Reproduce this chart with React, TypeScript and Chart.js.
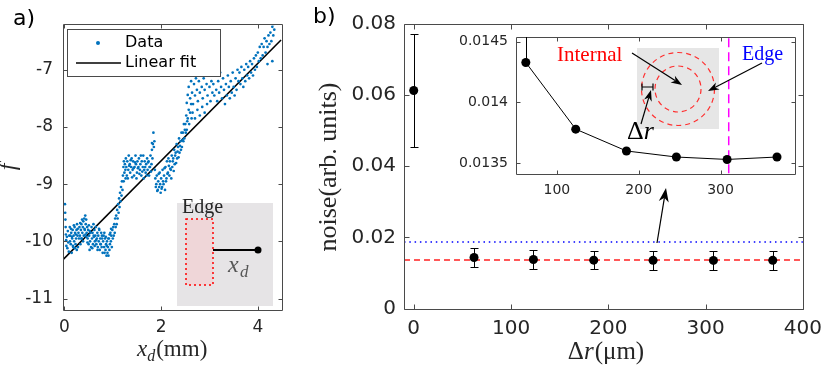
import React, { useEffect, useRef } from "react";
import { Chart, registerables } from "chart.js";
Chart.register(...registerables);

const SANS = "'DejaVu Sans', sans-serif";
const SERIF = "'Liberation Serif', serif";
const FRAME = "#4a4a4a";
const INK = "#262626";

// ---------- panel a: measured f vs x_d (mm) ----------
const samples: [number, number][] = [
  [0.01,-9.35],[0.015,-9.5],[0.02,-9.62],[0.025,-9.75],[0.03,-9.88],[0.035,-9.98],[0.04,-10.08],[0.05,-9.92],[0.06,-10.12],[0.07,-9.82],[0.08,-10.02],[0.09,-10.18],[0.1,-9.9],
  [0.11,-9.75],[0.115,-10.0],[0.12,-9.9],[0.13,-10.05],[0.135,-9.78],[0.14,-9.85],[0.15,-10.2],[0.155,-9.92],[0.16,-9.95],[0.17,-9.8],[0.175,-10.08],[0.18,-10.1],[0.19,-9.9],[0.195,-9.72],[0.2,-10.0],[0.21,-9.75],[0.215,-10.12],[0.22,-9.85],[0.23,-10.05],[0.235,-9.88],[0.24,-9.95],[0.25,-9.8],[0.255,-10.15],[0.26,-9.7],[0.27,-9.9],[0.275,-9.78],[0.28,-10.1],[0.29,-9.85],[0.3,-9.95],
  [0.31,-9.75],[0.32,-9.9],[0.325,-9.68],[0.33,-10.05],[0.34,-9.8],[0.345,-9.95],[0.35,-9.7],[0.36,-9.95],[0.365,-9.62],[0.37,-9.85],[0.38,-9.75],[0.385,-10.0],[0.39,-9.65],[0.4,-9.9],[0.41,-9.6],[0.415,-9.78],[0.42,-9.8],[0.43,-9.55],[0.435,-9.88],[0.44,-9.7],[0.45,-9.62],[0.455,-9.92],[0.46,-9.85],[0.47,-9.75],[0.475,-10.02],[0.48,-9.95],[0.49,-9.8],[0.5,-10.05],[0.505,-9.72],[0.51,-9.9],[0.52,-10.15],[0.525,-9.82],[0.53,-10.0],[0.54,-9.85],[0.55,-10.1],
  [0.56,-9.75],[0.57,-9.95],[0.575,-10.12],[0.58,-9.85],[0.59,-10.05],[0.6,-9.7],[0.605,-9.9],[0.61,-9.92],[0.62,-9.8],[0.625,-10.08],[0.63,-10.0],[0.64,-9.9],[0.65,-9.75],[0.655,-9.98],[0.66,-10.05],[0.67,-9.95],[0.68,-9.85],[0.685,-10.15],[0.69,-10.1],[0.7,-9.9],[0.71,-10.0],[0.715,-9.78],[0.72,-9.8],[0.73,-10.15],[0.74,-9.95],[0.745,-10.05],[0.75,-10.05],[0.76,-9.85],[0.77,-10.1],[0.775,-9.9],[0.78,-9.95],[0.79,-10.2],[0.8,-10.0],
  [0.81,-9.9],[0.82,-10.1],[0.825,-9.85],[0.83,-10.2],[0.84,-9.95],[0.85,-10.15],[0.855,-9.92],[0.86,-10.05],[0.87,-10.25],[0.875,-10.08],[0.88,-10.0],[0.89,-10.2],[0.9,-10.1],[0.905,-9.95],[0.91,-10.25],[0.92,-9.95],[0.93,-10.15],[0.935,-9.88],[0.94,-10.05],[0.95,-9.85],[0.96,-10.0],[0.965,-9.78],[0.97,-9.9],[0.98,-10.1],[0.99,-9.8],[1.0,-9.95],
  [1.01,-9.75],[1.02,-9.9],[1.03,-9.7],[1.04,-9.85],[1.05,-9.6],[1.06,-9.75],[1.07,-9.55],[1.08,-9.7],[1.09,-9.45],[1.1,-9.6],[1.11,-9.35],[1.12,-9.5],[1.13,-9.25],[1.14,-9.4],[1.15,-9.15],[1.16,-9.3],[1.17,-9.05],[1.18,-9.2],[1.19,-8.95],[1.2,-9.1],
  [1.21,-8.85],[1.22,-8.7],[1.225,-8.95],[1.23,-8.6],[1.24,-8.8],[1.25,-8.65],[1.26,-8.75],[1.265,-8.9],[1.27,-8.55],[1.28,-8.7],[1.29,-8.85],[1.3,-8.6],[1.31,-8.9],[1.32,-8.75],[1.33,-8.5],[1.34,-8.68],[1.35,-8.65],[1.36,-8.8],[1.37,-8.58],[1.38,-8.7],[1.39,-8.55],[1.4,-8.88],[1.41,-8.75],[1.42,-8.6],[1.43,-8.72],[1.44,-8.85],[1.45,-8.7],[1.46,-8.62],[1.47,-8.5],[1.48,-8.65],[1.49,-8.9],[1.5,-8.8],[1.51,-8.6],[1.52,-8.72],[1.53,-8.7],[1.54,-8.55],[1.55,-8.82],[1.56,-8.75],[1.57,-8.65],[1.58,-8.5],[1.59,-8.85],[1.6,-8.6],[1.61,-8.78],[1.62,-8.7],[1.63,-8.5],[1.64,-8.9],[1.65,-8.75],[1.66,-8.6],[1.67,-8.7],[1.68,-8.8],[1.69,-8.65],[1.7,-8.85],[1.71,-8.55],[1.72,-8.75],[1.73,-8.62],[1.74,-8.6],[1.75,-8.85],[1.76,-8.7],[1.77,-8.7],[1.78,-8.5],[1.79,-8.78],[1.8,-8.65],[1.81,-8.4],[1.81,-8.28],[1.82,-8.55],[1.83,-8.3],[1.84,-8.1],[1.85,-8.35],[1.86,-8.25],
  [1.87,-8.75],[1.88,-8.9],[1.89,-9.05],[1.9,-9.0],[1.91,-8.85],[1.92,-9.12],[1.93,-9.1],[1.94,-8.95],[1.95,-8.82],[1.96,-9.05],[1.97,-8.8],[1.98,-9.0],[1.99,-9.15],[2.0,-8.9],[2.01,-9.08],[2.02,-9.05],[2.03,-8.75],[2.04,-8.95],[2.05,-9.0],[2.06,-8.85],[2.07,-8.72],[2.08,-9.1],[2.09,-8.7],[2.1,-8.95],[2.11,-8.9],[2.12,-8.6],[2.13,-8.82],[2.14,-8.8],[2.15,-8.55],[2.16,-8.68],
  [2.17,-8.85],[2.18,-8.6],[2.19,-8.73],[2.2,-8.75],[2.21,-8.9],[2.22,-8.5],[2.23,-8.7],[2.24,-8.6],[2.25,-8.55],[2.26,-8.77],[2.27,-8.4],[2.28,-8.65],[2.29,-8.5],[2.3,-8.45],[2.31,-8.63],[2.32,-8.3],[2.33,-8.55],[2.34,-8.43],[2.35,-8.35],[2.36,-8.53],[2.37,-8.2],[2.38,-8.45],[2.39,-8.33],[2.4,-8.25],[2.41,-8.4],[2.42,-8.1],[2.43,-8.35],[2.44,-8.23],[2.45,-8.1],[2.46,-8.25],[2.47,-7.95],[2.48,-8.2],[2.49,-8.05],[2.5,-7.95],[2.51,-8.1],[2.52,-7.8],[2.53,-8.05],[2.54,-7.9],[2.55,-7.85],[2.57,-7.7],[2.58,-7.95],[2.6,-7.75],[2.62,-7.6],[2.63,-7.85],[2.53,-7.58],[2.55,-7.44],
  [2.57,-7.3],[2.6,-7.5],[2.62,-7.2],[2.64,-7.4],[2.66,-7.6],[2.68,-7.25],[2.7,-7.45],[2.72,-7.15],[2.74,-7.35],[2.76,-7.55],[2.78,-7.2],[2.8,-7.4],[2.82,-7.05],[2.84,-7.3],[2.86,-7.5],[2.88,-7.15],[2.9,-7.35],[2.92,-7.0],[2.94,-7.25],[2.96,-7.45],[2.98,-7.1],[3.0,-7.3],[3.02,-7.55],[3.04,-7.2],[3.06,-7.4],
  [2.65,-7.75],[2.7,-7.85],[2.75,-7.7],[2.8,-7.8],[2.85,-7.65],[2.9,-7.75],[2.95,-7.6],
  [3.08,-7.25],[3.1,-7.45],[3.12,-7.1],[3.14,-7.35],[3.16,-7.55],[3.18,-7.2],[3.2,-7.4],[3.22,-7.05],[3.24,-7.3],[3.26,-7.5],[3.28,-7.15],[3.3,-7.35],[3.32,-7.6],[3.34,-7.25],[3.36,-7.45],[3.38,-7.1],[3.4,-7.3],[3.42,-7.5],[3.44,-7.2],[3.46,-7.4],[3.48,-7.05],[3.5,-7.3],[3.52,-7.45],[3.54,-7.15],[3.56,-7.35],[3.58,-7.0],
  [3.6,-7.2],[3.62,-7.05],[3.64,-7.25],[3.66,-6.95],[3.68,-7.15],[3.7,-7.3],[3.72,-7.0],[3.74,-7.2],[3.76,-6.9],[3.78,-7.1],[3.8,-6.95],[3.82,-7.15],[3.84,-6.85],[3.86,-7.05],[3.88,-6.9],[3.9,-7.1],[3.92,-6.8],[3.94,-7.0],[3.96,-6.75],[3.98,-6.95],
  [4.0,-6.7],[4.02,-6.85],[4.04,-6.6],[4.06,-6.8],[4.08,-6.55],[4.1,-6.75],[4.12,-6.6],[4.14,-6.45],[4.16,-6.7],[4.18,-6.5],[4.2,-6.6],[4.22,-6.4],[4.24,-6.55],[4.26,-6.35],[4.28,-6.5],[4.3,-6.25],[4.32,-6.4],[4.33,-6.2],[4.34,-6.3],[4.3,-6.85],[4.2,-6.9],[4.25,-6.15]
];
const fitX = [-0.03, 4.48];
const fitY = [-10.32, -6.48];
const aXTicks = [0, 2, 4];
const aYTicks = [-11, -10, -9, -8, -7];

// ---------- panel b: noise vs Δr (μm) ----------
const edgeX = [0];
const edgeY = [0.0613];
const edgeErr = [0.0159];
const internalX = [62, 123, 185, 246, 308, 369];
const internalY = [0.01433, 0.01378, 0.0136, 0.01355, 0.01353, 0.01355];
const internalErr = [0.0027, 0.0026, 0.0026, 0.0026, 0.0026, 0.0026];
const levelX = [-10, 400];
const internalLevelY = [0.01364, 0.01364];
const edgeLevelY = [0.0187, 0.0187];
const boundaryX = [310, 310];
const boundaryY = [0.0133, 0.0146];
const bXTicks = [0, 100, 200, 300, 400];
const bYTicks = [0, 0.02, 0.04, 0.06, 0.08];
const insetXTicks = [100, 200, 300];
const insetYTicks = [0.0135, 0.014, 0.0145];

const pts = (xs: number[], ys: number[]) => xs.map((x, i) => ({ x, y: ys[i] }));

function axis(min: number, max: number, ticks: number[], size: number, pad: number, extent: number, horizontal: boolean) {
  return {
    type: "linear",
    min,
    max,
    grid: { display: false, drawTicks: false },
    border: { display: false },
    ticks: {
      color: INK,
      font: { family: SANS, size },
      padding: pad,
      autoSkip: false,
      maxRotation: 0,
      minRotation: 0,
      callback: (v: any) => String(v),
    },
    afterBuildTicks: (s: any) => {
      s.ticks = ticks.map((v) => ({ value: v }));
    },
    afterFit: (s: any) => {
      if (horizontal) s.height = extent;
      else s.width = extent;
    },
  };
}

function framePlugin(len: number) {
  return {
    id: "frame" + len,
    afterDatasetsDraw(chart: any) {
      const { ctx, chartArea: a, scales } = chart;
      const L = Math.round(a.left) + 0.5, R = Math.round(a.right) + 0.5;
      const T = Math.round(a.top) + 0.5, B = Math.round(a.bottom) + 0.5;
      ctx.save();
      ctx.strokeStyle = FRAME;
      ctx.lineWidth = 1;
      ctx.beginPath();
      ctx.rect(L, T, R - L, B - T);
      for (const t of scales.x.ticks) {
        const p = Math.round(scales.x.getPixelForValue(t.value)) + 0.5;
        ctx.moveTo(p, B); ctx.lineTo(p, B - len);
        ctx.moveTo(p, T); ctx.lineTo(p, T + len);
      }
      for (const t of scales.y.ticks) {
        const p = Math.round(scales.y.getPixelForValue(t.value)) + 0.5;
        ctx.moveTo(L, p); ctx.lineTo(L + len, p);
        ctx.moveTo(R, p); ctx.lineTo(R - len, p);
      }
      ctx.stroke();
      ctx.restore();
    },
  };
}

function arrow(ctx: CanvasRenderingContext2D, x1: number, y1: number, x2: number, y2: number, head = 10, half = 3.5) {
  const a = Math.atan2(y2 - y1, x2 - x1);
  const c = Math.cos(a), s = Math.sin(a);
  ctx.beginPath();
  ctx.moveTo(x1, y1);
  ctx.lineTo(x2 - head * 0.7 * c, y2 - head * 0.7 * s);
  ctx.stroke();
  ctx.beginPath();
  ctx.moveTo(x2, y2);
  ctx.lineTo(x2 - head * c + half * s, y2 - head * s - half * c);
  ctx.lineTo(x2 - head * 0.7 * c, y2 - head * 0.7 * s);
  ctx.lineTo(x2 - head * c - half * s, y2 - head * s + half * c);
  ctx.closePath();
  ctx.fill();
}

function vText(ctx: CanvasRenderingContext2D, text: string, x: number, y: number, font: string) {
  ctx.save();
  ctx.translate(x, y);
  ctx.rotate(-Math.PI / 2);
  ctx.font = font;
  ctx.textAlign = "center";
  ctx.textBaseline = "middle";
  ctx.fillText(text, 0, 0);
  ctx.restore();
}

function errorBars(chart: any, xs: number[], ys: number[], es: number[]) {
  const { ctx, scales } = chart;
  ctx.save();
  ctx.strokeStyle = "#000";
  ctx.lineWidth = 1;
  ctx.beginPath();
  xs.forEach((x, i) => {
    const px = Math.round(scales.x.getPixelForValue(x)) + 0.5;
    const t = Math.round(scales.y.getPixelForValue(ys[i] + es[i])) + 0.5;
    const b = Math.round(scales.y.getPixelForValue(ys[i] - es[i])) + 0.5;
    ctx.moveTo(px, t); ctx.lineTo(px, b);
    ctx.moveTo(px - 4, t); ctx.lineTo(px + 4, t);
    ctx.moveTo(px - 4, b); ctx.lineTo(px + 4, b);
  });
  ctx.stroke();
  ctx.restore();
}

const panelADecor = {
  id: "panelADecor",
  afterDraw(chart: any) {
    const ctx: CanvasRenderingContext2D = chart.ctx;
    ctx.save();
    // panel label
    ctx.fillStyle = "#000";
    ctx.font = `22px ${SANS}`;
    ctx.textAlign = "left";
    ctx.textBaseline = "alphabetic";
    ctx.fillText("a)", 13, 25);
    // axis titles
    ctx.fillStyle = INK;
    vText(ctx, "f", 9, 167, `italic 24px ${SERIF}`);
    ctx.textAlign = "left";
    ctx.textBaseline = "alphabetic";
    let x = 137;
    ctx.font = `italic 23px ${SERIF}`;
    ctx.fillText("x", x, 356);
    x += ctx.measureText("x").width;
    ctx.font = `italic 16px ${SERIF}`;
    ctx.fillText("d", x, 361);
    x += ctx.measureText("d").width + 1;
    ctx.font = `23px ${SERIF}`;
    ctx.fillText("(mm)", x, 356);
    // legend
    ctx.fillStyle = "#fff";
    ctx.fillRect(67, 29, 153, 47);
    ctx.strokeStyle = FRAME;
    ctx.lineWidth = 1;
    ctx.strokeRect(67.5, 29.5, 153, 47);
    ctx.fillStyle = "#0072BD";
    ctx.beginPath();
    ctx.arc(98, 43, 2, 0, Math.PI * 2);
    ctx.fill();
    ctx.strokeStyle = "#000";
    ctx.lineWidth = 1.6;
    ctx.beginPath();
    ctx.moveTo(76, 63); ctx.lineTo(121, 63);
    ctx.stroke();
    ctx.fillStyle = "#000";
    ctx.font = `16px ${SANS}`;
    ctx.textBaseline = "middle";
    ctx.fillText("Data", 125, 43);
    ctx.fillText("Linear fit", 125, 63);
    // edge schematic
    ctx.fillStyle = "#e6e4e6";
    ctx.fillRect(177, 203, 96, 103);
    ctx.fillStyle = "rgba(255,190,190,0.35)";
    ctx.fillRect(186, 219, 27, 66);
    ctx.strokeStyle = "#ff0000";
    ctx.lineWidth = 1.5;
    ctx.setLineDash([2, 3]);
    ctx.strokeRect(186, 219, 27, 66);
    ctx.setLineDash([]);
    ctx.strokeStyle = "#000";
    ctx.lineWidth = 2;
    ctx.beginPath();
    ctx.moveTo(213, 250); ctx.lineTo(258, 250);
    ctx.stroke();
    ctx.fillStyle = "#000";
    ctx.beginPath();
    ctx.arc(258, 250, 3.5, 0, Math.PI * 2);
    ctx.fill();
    ctx.fillStyle = INK;
    ctx.textBaseline = "alphabetic";
    ctx.font = `20px ${SERIF}`;
    ctx.fillText("Edge", 182, 213);
    ctx.fillStyle = "#555";
    ctx.font = `italic 24px ${SERIF}`;
    ctx.fillText("x", 228, 272);
    ctx.font = `italic 17px ${SERIF}`;
    ctx.fillText("d", 240, 277);
    ctx.restore();
  },
};

const panelBDecor = {
  id: "panelBDecor",
  afterDatasetsDraw(chart: any) {
    errorBars(chart, edgeX, edgeY, edgeErr);
    errorBars(chart, internalX, internalY, internalErr);
  },
  afterDraw(chart: any) {
    const ctx: CanvasRenderingContext2D = chart.ctx;
    ctx.save();
    ctx.fillStyle = "#000";
    ctx.font = `22px ${SANS}`;
    ctx.textAlign = "left";
    ctx.textBaseline = "alphabetic";
    ctx.fillText("b)", 23, 23);
    ctx.fillStyle = INK;
    vText(ctx, "noise(arb. units)", 39, 167, `26px ${SERIF}`);
    // x title Δr(μm)
    ctx.textAlign = "left";
    ctx.textBaseline = "alphabetic";
    const f1 = `25px ${SERIF}`, f2 = `italic 25px ${SERIF}`;
    ctx.font = f1; const w1 = ctx.measureText("Δ").width; const w3 = ctx.measureText("(μm)").width;
    ctx.font = f2; const w2 = ctx.measureText("r").width + 1;
    let x = 316 - (w1 + w2 + w3) / 2;
    ctx.font = f1; ctx.fillText("Δ", x, 359); x += w1;
    ctx.font = f2; ctx.fillText("r", x, 359); x += w2;
    ctx.font = f1; ctx.fillText("(μm)", x, 359);
    // arrow from edge level to inset
    ctx.strokeStyle = "#000";
    ctx.fillStyle = "#000";
    ctx.lineWidth = 1.2;
    arrow(ctx, 367, 243, 376, 188, 14, 5);
    ctx.restore();
  },
};

const insetDecor = {
  id: "insetDecor",
  beforeDraw(chart: any) {
    const { ctx, chartArea: a } = chart;
    ctx.save();
    ctx.fillStyle = "#fff";
    ctx.fillRect(a.left, a.top, a.right - a.left, a.bottom - a.top);
    ctx.restore();
  },
  afterDatasetsDraw(chart: any) {
    const { ctx, chartArea: a, scales } = chart;
    const px = Math.round(scales.x.getPixelForValue(internalX[0])) + 0.5;
    const py = scales.y.getPixelForValue(internalY[0]);
    const top = Math.max(a.top, scales.y.getPixelForValue(internalY[0] + internalErr[0]));
    ctx.save();
    ctx.strokeStyle = "#000";
    ctx.lineWidth = 1;
    ctx.beginPath();
    ctx.moveTo(px, py); ctx.lineTo(px, top);
    ctx.stroke();
    ctx.restore();
  },
  afterDraw(chart: any) {
    const ctx: CanvasRenderingContext2D = chart.ctx;
    ctx.save();
    ctx.fillStyle = "#e6e6e6";
    ctx.fillRect(197, 28, 82, 81);
    ctx.strokeStyle = "#ff3030";
    ctx.lineWidth = 1.2;
    ctx.setLineDash([5, 4]);
    ctx.beginPath();
    ctx.arc(238, 69, 36.5, 0, Math.PI * 2);
    ctx.stroke();
    ctx.beginPath();
    ctx.arc(238, 69, 23, 0, Math.PI * 2);
    ctx.stroke();
    ctx.setLineDash([]);
    ctx.textAlign = "left";
    ctx.textBaseline = "alphabetic";
    ctx.fillStyle = "#ff0000";
    ctx.font = `21px ${SERIF}`;
    ctx.fillText("Internal", 117, 41);
    ctx.fillStyle = "#0000ff";
    ctx.font = `20px ${SERIF}`;
    ctx.fillText("Edge", 302, 40);
    ctx.strokeStyle = "#000";
    ctx.fillStyle = "#000";
    ctx.lineWidth = 1.2;
    arrow(ctx, 192, 33, 242, 65, 11, 4);
    arrow(ctx, 322, 43, 268, 71, 11, 4);
    arrow(ctx, 201, 104, 211, 70, 11, 4);
    ctx.lineWidth = 1.2;
    ctx.beginPath();
    ctx.moveTo(202, 67); ctx.lineTo(213, 67);
    ctx.moveTo(202, 63.5); ctx.lineTo(202, 70.5);
    ctx.moveTo(213, 63.5); ctx.lineTo(213, 70.5);
    ctx.stroke();
    ctx.fillStyle = "#000";
    ctx.font = `26px ${SERIF}`;
    ctx.fillText("Δ", 187, 119);
    const w = ctx.measureText("Δ").width;
    ctx.font = `italic 26px ${SERIF}`;
    ctx.fillText("r", 187 + w, 119);
    ctx.restore();
  },
};

export default function App() {
  const aRef = useRef<HTMLCanvasElement>(null);
  const bRef = useRef<HTMLCanvasElement>(null);
  const iRef = useRef<HTMLCanvasElement>(null);

  useEffect(() => {
    const common = {
      responsive: false,
      animation: false,
      events: [],
      plugins: { legend: { display: false }, tooltip: { enabled: false } },
    };

    const chartA = new Chart(aRef.current as HTMLCanvasElement, {
      type: "scatter",
      data: {
        datasets: [
          {
            data: samples.map(([x, y]) => ({ x, y })),
            backgroundColor: "#0072BD",
            borderWidth: 0,
            pointRadius: 1.35,
          },
          {
            data: pts(fitX, fitY),
            showLine: true,
            borderColor: "#000",
            borderWidth: 1.6,
            pointRadius: 0,
          },
        ],
      },
      options: {
        ...common,
        layout: { padding: { left: 0, top: 24, right: 8, bottom: 0 } },
        scales: {
          x: axis(-0.03, 4.5, aXTicks, 17, 7, 60, true),
          y: axis(-11.2, -6.2, aYTicks, 17, 10, 63, false),
        },
      } as any,
      plugins: [framePlugin(4), panelADecor],
    });

    const chartB = new Chart(bRef.current as HTMLCanvasElement, {
      type: "scatter",
      data: {
        datasets: [
          {
            data: [...pts(edgeX, edgeY), ...pts(internalX, internalY)],
            backgroundColor: "#000",
            borderColor: "#000",
            pointRadius: 4.5,
            borderWidth: 0,
          },
          {
            data: pts(levelX, internalLevelY),
            showLine: true,
            borderColor: "#ff2020",
            borderDash: [6, 4],
            borderWidth: 1.6,
            pointRadius: 0,
          },
          {
            data: pts(levelX, edgeLevelY),
            showLine: true,
            borderColor: "#0000ff",
            borderDash: [1.5, 3.8],
            borderWidth: 1.6,
            pointRadius: 0,
          },
        ],
      },
      options: {
        ...common,
        layout: { padding: { left: 0, top: 24, right: 21, bottom: 0 } },
        scales: {
          x: axis(-10, 400, bXTicks, 20, 8, 61.5, true),
          y: axis(0, 0.08, bYTicks, 20, 8, 114, false),
        },
      } as any,
      plugins: [framePlugin(5), panelBDecor],
    });

    const chartI = new Chart(iRef.current as HTMLCanvasElement, {
      type: "scatter",
      data: {
        datasets: [
          {
            data: pts(internalX, internalY),
            showLine: true,
            borderColor: "#000",
            backgroundColor: "#000",
            borderWidth: 1,
            pointRadius: 4.5,
            pointBorderWidth: 0,
          },
          {
            data: pts(boundaryX, boundaryY),
            showLine: true,
            borderColor: "#ff00ff",
            borderDash: [9, 5],
            borderWidth: 1.5,
            pointRadius: 0,
          },
        ],
      },
      options: {
        ...common,
        layout: { padding: { left: 0, top: 17, right: 15, bottom: 0 } },
        scales: {
          x: axis(50, 391, insetXTicks, 14, 7.5, 31, true),
          y: axis(0.01341, 0.01454, insetYTicks, 14, 8, 76, false),
        },
      } as any,
      plugins: [framePlugin(4), insetDecor],
    });

    return () => {
      chartA.destroy();
      chartB.destroy();
      chartI.destroy();
    };
  }, []);

  return (
    <div style={{ position: "absolute", left: 0, top: 0, width: 830, height: 370, background: "#fff" }}>
      <canvas ref={aRef} width={290} height={370} style={{ position: "absolute", left: 0, top: 0, width: 290, height: 370 }} />
      <canvas ref={bRef} width={540} height={370} style={{ position: "absolute", left: 290, top: 0, width: 540, height: 370 }} />
      <canvas ref={iRef} width={370} height={185} style={{ position: "absolute", left: 440, top: 20, width: 370, height: 185 }} />
    </div>
  );
}
